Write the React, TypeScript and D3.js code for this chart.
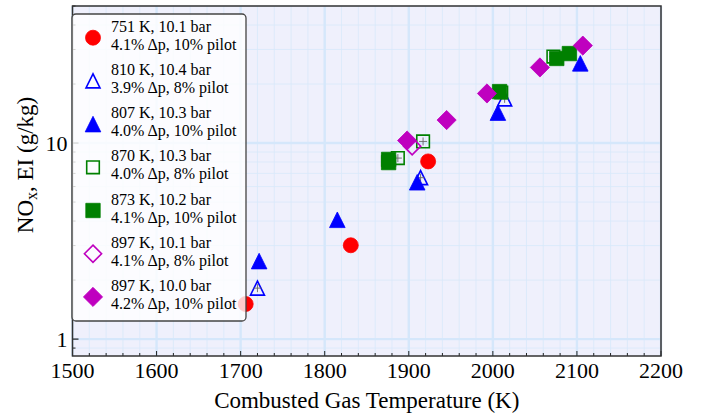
import React from "react";
import * as d3 from "d3";

// ---- data ----
const xTickLabels = [1500, 1600, 1700, 1800, 1900, 2000, 2100, 2200];
const yTickLabels = [1, 10];

const t751 = [1706, 1831, 1923];
const v751 = [1.51, 3.01, 8.06];
const t810 = [1720, 1914, 2014];
const v810 = [1.82, 6.66, 16.8];
const t807 = [1722, 1815, 1910, 2006, 2104];
const v807 = [2.5, 4.06, 6.31, 14.3, 25.5];
const t870 = [1887, 1917, 2010, 2072];
const v870 = [8.38, 10.19, 18.1, 27.6];
const t873 = [1876, 1876, 2008, 2076, 2091];
const v873 = [8.25, 7.95, 18.3, 27.0, 28.6];
const t897o = [1904];
const v897o = [9.64];
const t897f = [1898, 1945, 1993, 2056, 2107];
const v897f = [10.3, 13.1, 17.9, 24.3, 31.4];

const labels1 = [
  "751 K, 10.1 bar",
  "810 K, 10.4 bar",
  "807 K, 10.3 bar",
  "870 K, 10.3 bar",
  "873 K, 10.2 bar",
  "897 K, 10.1 bar",
  "897 K, 10.0 bar",
];
const labels2 = [
  "4.1% Δp, 10% pilot",
  "3.9% Δp, 8% pilot",
  "4.0% Δp, 10% pilot",
  "4.0% Δp, 8% pilot",
  "4.1% Δp, 10% pilot",
  "4.1% Δp, 8% pilot",
  "4.2% Δp, 10% pilot",
];

const seriesT = [t751, t810, t807, t870, t873, t897o, t897f];
const seriesV = [v751, v810, v807, v870, v873, v897o, v897f];

// ---- styles ----
const styles = [
  { shape: "circle", color: "#ff0000", filled: true },
  { shape: "triangle", color: "#0000ff", filled: false },
  { shape: "triangle", color: "#0000ff", filled: true },
  { shape: "square", color: "#008000", filled: false },
  { shape: "square", color: "#008000", filled: true },
  { shape: "diamond", color: "#bf00bf", filled: false },
  { shape: "diamond", color: "#bf00bf", filled: true },
];

const W = 702;
const H = 417;
const L = 72.5;
const R = 661;
const T = 6;
const B = 356;
const FONT = "Liberation Serif, Times New Roman, DejaVu Serif, serif";

function markerPath(shape: string, filled: boolean): string {
  if (shape === "triangle") {
    const r = filled ? 7.8 : 7.0;
    return `M0,${-r}L${-r},${r}L${r},${r}Z`;
  }
  if (shape === "square") {
    const r = filled ? 7.2 : 6.3;
    return `M${-r},${-r}L${r},${-r}L${r},${r}L${-r},${r}Z`;
  }
  if (shape === "diamond") {
    const r = filled ? 9.6 : 8.6;
    return `M0,${-r}L${r},0L0,${r}L${-r},0Z`;
  }
  const r = 7.5;
  return `M${r},0A${r},${r} 0 1,1 ${-r},0A${r},${r} 0 1,1 ${r},0Z`;
}

function Marker({ x, y, s }: { x: number; y: number; s: any }) {
  return (
    <path
      transform={`translate(${x},${y})`}
      d={markerPath(s.shape, s.filled)}
      fill={s.filled ? s.color : "none"}
      stroke={s.color}
      strokeWidth={s.filled ? 0.8 : 1.6}
    />
  );
}

export default function App() {
  const x = d3.scaleLinear().domain([1500, 2200]).range([L, R]);
  const y = d3.scaleLog().domain([0.82, 50]).range([B, T]);

  const xMinor = d3.range(1500, 2201, 20);
  const yMinor = [0.9, 2, 3, 4, 5, 6, 7, 8, 9, 20, 30, 40, 50].filter(
    (v) => v >= 0.82 && v <= 50
  );

  const legendX = 72;
  const legendY = 14;
  const legendW = 174;
  const legendH = 307;
  const txt = { fontFamily: FONT };

  return (
    <svg
      width={W}
      height={H}
      style={{ position: "absolute", left: 0, top: 0, display: "block", fontFamily: FONT }}
    >
      <rect x={0} y={0} width={W} height={H} fill="#ffffff" />
      <rect x={L} y={T} width={R - L} height={B - T} fill="#eff0fc" />

      {/* minor grid */}
      {xMinor
        .filter((v) => v % 100 !== 0)
        .map((v) => (
          <line key={"gx" + v} x1={x(v)} x2={x(v)} y1={T} y2={B} stroke="#d8e8fa" strokeWidth={0.8} />
        ))}
      {yMinor.map((v) => (
        <line key={"gy" + v} x1={L} x2={R} y1={y(v)} y2={y(v)} stroke="#d8e8fa" strokeWidth={0.8} />
      ))}
      {/* major grid */}
      {xTickLabels.map((v) => (
        <line key={"Gx" + v} x1={x(v)} x2={x(v)} y1={T} y2={B} stroke="#d5e7fb" strokeWidth={2.4} />
      ))}
      {yTickLabels.map((v) => (
        <line key={"Gy" + v} x1={L} x2={R} y1={y(v)} y2={y(v)} stroke="#d5e7fb" strokeWidth={2.4} />
      ))}

      {/* ticks */}
      {xMinor.map((v) => (
        <line key={"tx" + v} x1={x(v)} x2={x(v)} y1={B} y2={B - (v % 100 === 0 ? 5 : 3)} stroke="#222" strokeWidth={1} />
      ))}
      {yMinor.map((v) => (
        <line key={"ty" + v} x1={L} x2={L + 3} y1={y(v)} y2={y(v)} stroke="#222" strokeWidth={1} />
      ))}
      {yTickLabels.map((v) => (
        <line key={"tY" + v} x1={L} x2={L + 6} y1={y(v)} y2={y(v)} stroke="#222" strokeWidth={1.2} />
      ))}

      {/* data */}
      {seriesT.map((ts, si) =>
        ts.map((t, i) => (
          <g key={`p${si}-${i}`}>
            <Marker x={x(t)} y={y(seriesV[si][i])} s={styles[si]} />
            {!styles[si].filled && styles[si].shape !== "diamond" ? (
              <g stroke="#666" strokeWidth={0.9}>
                <line x1={x(t) - 4} x2={x(t) + 4} y1={y(seriesV[si][i])} y2={y(seriesV[si][i])} />
                <line x1={x(t)} x2={x(t)} y1={y(seriesV[si][i]) - 4} y2={y(seriesV[si][i]) + 4} />
              </g>
            ) : null}
          </g>
        ))
      )}

      {/* frame */}
      <rect x={L} y={T} width={R - L} height={B - T} fill="none" stroke="#333" strokeWidth={1.5} />

      {/* tick labels */}
      {xTickLabels.map((v) => (
        <text key={"lx" + v} x={x(v)} y={378} textAnchor="middle" fontSize={22} fill="#000" style={txt}>
          {v}
        </text>
      ))}
      {yTickLabels.map((v) => (
        <text key={"ly" + v} x={L - 5} y={y(v) + 7.5} textAnchor="end" fontSize={22} fill="#000" style={txt}>
          {v}
        </text>
      ))}

      {/* axis labels */}
      <text x={(L + R) / 2} y={408} textAnchor="middle" fontSize={23} fill="#000" style={txt}>
        Combusted Gas Temperature (K)
      </text>
      <text transform={`translate(33,165) rotate(-90)`} textAnchor="middle" fontSize={23} fill="#000" style={txt}>
        NO
        <tspan fontSize={16} dy={4}>x</tspan>
        <tspan dy={-4}>, EI (g/kg)</tspan>
      </text>

      {/* legend */}
      <rect
        x={legendX}
        y={legendY}
        width={legendW}
        height={legendH}
        rx={4}
        ry={4}
        fill="#ffffff"
        fillOpacity={0.8}
        stroke="#444"
        strokeWidth={1.3}
      />
      {labels1.map((lab, i) => {
        const cy = 37.7 + i * 43.2;
        return (
          <g key={"lg" + i}>
            <Marker x={93} y={cy} s={styles[i]} />
            <text x={111} y={31.7 + i * 43.2} fontSize={16} fill="#000" style={txt}>
              {lab}
            </text>
            <text x={111} y={49.8 + i * 43.2} fontSize={16} fill="#000" style={txt}>
              {labels2[i]}
            </text>
          </g>
        );
      })}
    </svg>
  );
}
